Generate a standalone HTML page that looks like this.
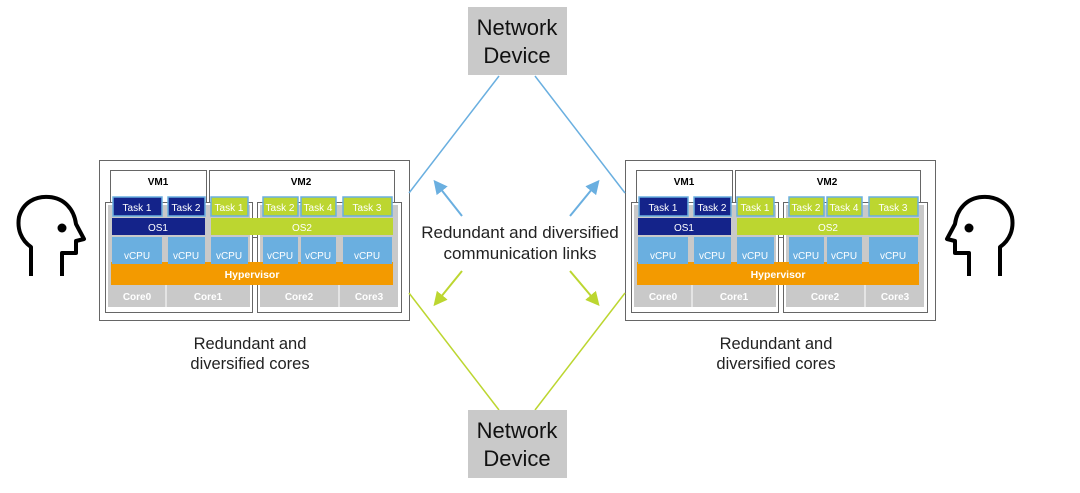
<!DOCTYPE html><html><head><style>
body{margin:0;background:#fff;}
svg text{font-family:"Liberation Sans",Arial,sans-serif;}
</style></head><body>
<svg width="1080" height="488" viewBox="0 0 1080 488" xmlns="http://www.w3.org/2000/svg">
<defs>
<marker id="ab" markerWidth="14" markerHeight="14" refX="10" refY="7" orient="auto" markerUnits="userSpaceOnUse" viewBox="0 0 14 14"><path d="M0,0L14,7L0,14z" fill="#6aafe0"/></marker>
<marker id="ag" markerWidth="14" markerHeight="14" refX="10" refY="7" orient="auto" markerUnits="userSpaceOnUse" viewBox="0 0 14 14"><path d="M0,0L14,7L0,14z" fill="#bcd630"/></marker>
<g id="blk">
<rect x="99.5" y="160.5" width="310" height="160" fill="#fff" stroke="#666"/>
<rect x="110.5" y="170.5" width="96" height="67" fill="#fff" stroke="#666"/>
<rect x="209.5" y="170.5" width="185" height="67" fill="#fff" stroke="#666"/>
<text x="158" y="185" font-size="10" font-weight="bold" text-anchor="middle">VM1</text>
<text x="301" y="185" font-size="10" font-weight="bold" text-anchor="middle">VM2</text>
<rect x="105.5" y="202.5" width="147" height="110" fill="#fff" stroke="#666"/>
<rect x="257.5" y="202.5" width="144" height="110" fill="#fff" stroke="#666"/>
<g fill="#c9c9c9"><rect x="108" y="205" width="142" height="102"/><rect x="260" y="205" width="138" height="102"/></g>
<g fill="#fff" font-size="10" font-weight="bold" text-anchor="middle">
<line x1="166" y1="285" x2="166" y2="307" stroke="#fff"/><line x1="339" y1="285" x2="339" y2="307" stroke="#fff"/>
<text x="137" y="300">Core0</text><text x="208" y="300">Core1</text><text x="299" y="300">Core2</text><text x="369" y="300">Core3</text>
</g>
<rect x="111" y="262" width="282" height="23" fill="#f39a00"/>
<text x="252" y="278" font-size="10.5" font-weight="bold" fill="#fff" text-anchor="middle">Hypervisor</text>
<g fill="#6aafe0"><rect x="112" y="237" width="50" height="27"/><rect x="168" y="237" width="37" height="27"/><rect x="211" y="237" width="37" height="27"/><rect x="263" y="237" width="35" height="27"/><rect x="301" y="237" width="35" height="27"/><rect x="343" y="237" width="49" height="27"/></g>
<g fill="#fff" font-size="10" text-anchor="middle"><text x="137" y="259">vCPU</text><text x="186" y="259">vCPU</text><text x="229" y="259">vCPU</text><text x="280" y="259">vCPU</text><text x="318" y="259">vCPU</text><text x="367" y="259">vCPU</text></g>
<rect x="112" y="218" width="93" height="17" fill="#14238a"/>
<rect x="211" y="218" width="182" height="17" fill="#bcd630"/>
<text x="158" y="231" font-size="10" fill="#fff" text-anchor="middle">OS1</text>
<text x="302" y="231" font-size="10" fill="#fff" text-anchor="middle">OS2</text>
<g stroke="#6aafe0" stroke-width="1.5"><rect x="113" y="197" width="49" height="19" fill="#14238a"/><rect x="168" y="197" width="37" height="19" fill="#14238a"/><rect x="211" y="197" width="37" height="19" fill="#bcd630"/><rect x="263" y="197" width="35" height="19" fill="#bcd630"/><rect x="301" y="197" width="35" height="19" fill="#bcd630"/><rect x="343" y="197" width="49" height="19" fill="#bcd630"/></g>
<g fill="#fff" font-size="10" text-anchor="middle"><text x="137" y="211">Task 1</text><text x="186" y="211">Task 2</text><text x="229" y="211">Task 1</text><text x="280" y="211">Task 2</text><text x="318" y="211">Task 4</text><text x="367" y="211">Task 3</text></g>
<text x="250" y="349" font-size="16.5" text-anchor="middle" fill="#222">Redundant and</text>
<text x="250" y="369" font-size="16.5" text-anchor="middle" fill="#222">diversified cores</text>
</g>
<g id="head" fill="none" stroke="#000" stroke-width="4" stroke-linejoin="round">
<path d="M31,276 V247 C21,240 17,229 19,217 C23,202 36,196 49,197 C64,198 74,209 76,224 L84,239 L76,241 V253 L62,253 V276"/>
</g>
</defs>
<use href="#blk"/>
<use href="#blk" x="526"/>
<use href="#head"/>
<g transform="translate(1031,0) scale(-1,1)"><use href="#head"/></g>
<circle cx="62" cy="228" r="4.5" fill="#000"/>
<circle cx="969" cy="228" r="4.5" fill="#000"/>
<g stroke="#6aafe0" stroke-width="1.5"><line x1="499" y1="76" x2="409" y2="193"/><line x1="535" y1="76" x2="625" y2="193"/></g>
<g stroke="#bcd630" stroke-width="1.5"><line x1="409" y1="293" x2="499" y2="410"/><line x1="625" y1="293" x2="535" y2="410"/></g>
<rect x="468" y="7" width="99" height="68" fill="#c9c9c9"/>
<rect x="468" y="410" width="99" height="68" fill="#c9c9c9"/>
<g font-size="22" text-anchor="middle" fill="#111"><text x="517" y="35">Network</text><text x="517" y="63">Device</text><text x="517" y="438">Network</text><text x="517" y="466">Device</text></g>
<g stroke-width="2"><line x1="462" y1="216" x2="436" y2="183" stroke="#6aafe0" marker-end="url(#ab)"/><line x1="570" y1="216" x2="597" y2="183" stroke="#6aafe0" marker-end="url(#ab)"/>
<line x1="462" y1="271" x2="436" y2="303" stroke="#bcd630" marker-end="url(#ag)"/><line x1="570" y1="271" x2="597" y2="303" stroke="#bcd630" marker-end="url(#ag)"/></g>
<text x="520" y="238" font-size="17" text-anchor="middle" fill="#222">Redundant and diversified</text>
<text x="520" y="259" font-size="17" text-anchor="middle" fill="#222">communication links</text>
</svg>
</body></html>
